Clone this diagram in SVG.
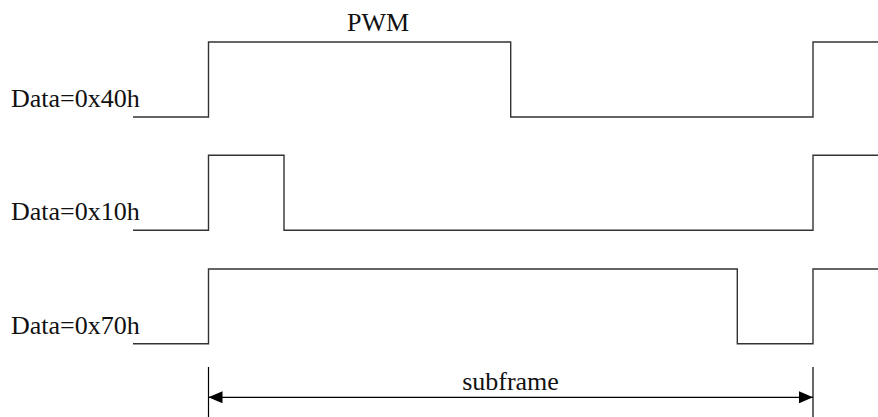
<svg xmlns="http://www.w3.org/2000/svg" width="878" height="417" viewBox="0 0 878 417">
<style>
.wave{fill:none;stroke:#333;stroke-width:1.4}
.lbl{font-family:"Liberation Serif","Times New Roman",serif;font-size:26px;fill:#111}
</style>
<defs>
<marker id="ah" markerWidth="14" markerHeight="12" refX="14" refY="6" orient="auto-start-reverse" markerUnits="userSpaceOnUse">
<path d="M0,0 L14,6 L0,12 Z" fill="#000"/>
</marker>
</defs>
<rect width="878" height="417" fill="#fff"/>
<g id="pwm-title"><text class="lbl" x="378" y="31" text-anchor="middle">PWM</text></g>
<g id="wave-40h">
<text class="lbl" x="11" y="107">Data=0x40h</text>
<path class="wave" d="M133,117 H208.5 V42 H510.7 V117 H813 V42 H878"/>
</g>
<g id="wave-10h">
<text class="lbl" x="11" y="220">Data=0x10h</text>
<path class="wave" d="M133,230.3 H208.5 V155.3 H284 V230.3 H813 V155.3 H878"/>
</g>
<g id="wave-70h">
<text class="lbl" x="11" y="334">Data=0x70h</text>
<path class="wave" d="M133,343.7 H208.5 V269 H737.3 V343.7 H813 V269 H878"/>
</g>
<g id="connectors">
<line x1="208.5" y1="367" x2="208.5" y2="417" stroke="#000" stroke-width="1.2"/>
<line x1="813" y1="367" x2="813" y2="417" stroke="#000" stroke-width="1.2"/>
<line x1="208.5" y1="397.3" x2="813" y2="397.3" stroke="#000" stroke-width="1.2" marker-start="url(#ah)" marker-end="url(#ah)"/>
</g>
<g id="subframe-label"><text class="lbl" x="510.5" y="389.5" text-anchor="middle">subframe</text></g>
</svg>
